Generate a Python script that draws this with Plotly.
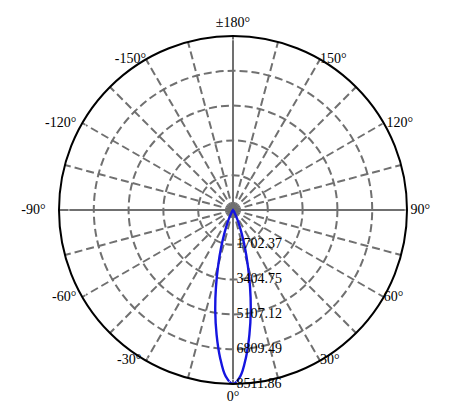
import plotly.graph_objects as go

# Luminous intensity distribution (cd), symmetric narrow beam
angles = [0, 2.5, 5, 7.5, 10, 12.5, 15, 17.5, 20, 22.5, 25, 30, 35, 40, 45, 60, 90, 120, 150, 180]
intensity = [8511.86, 8150, 7250, 6150, 5000, 3850, 2800, 1950, 1280, 800, 480, 150, 40, 10, 0, 0, 0, 0, 0, 0]

r_ticks = [1702.37, 3404.75, 5107.12, 6809.49, 8511.86]
theta_ticks = [0, 30, 60, 90, 120, 150, 180, 210, 240, 270, 300, 330]
theta_labels = ["0°", "30°", "60°", "90°", "120°", "150°", "±180°",
                "-150°", "-120°", "-90°", "-60°", "-30°"]
label_pos = ["bottom center", "middle right", "middle right", "middle right", "middle right",
             "middle right", "top center", "middle left", "middle left", "middle left",
             "middle left", "middle left"]
# invisible marker sizes used only as label padding
label_pad = [9, 0, 0, 4, 3, 0, 8, 0, 8, 20, 8, 6]

# full curve: right side 0..180 then left side back to 0
theta_full = angles + [360 - a for a in reversed(angles)]
r_full = intensity + list(reversed(intensity))
r_max = r_ticks[-1]

GRID = "#707070"
DASH = "8px,4px"
FONT = dict(family="Liberation Serif", size=14, color="black")

fig = go.Figure()

# dashed spokes every 15 deg (except main axes)
spokes = [a for a in range(15, 360, 15) if a % 90 != 0]
fig.add_trace(go.Scatterpolar(
    r=[v for a in spokes for v in (0, r_max, None)],
    theta=[v for a in spokes for v in (a, a, None)],
    mode="lines", line=dict(color=GRID, width=2, dash=DASH), hoverinfo="skip"))

# solid main axes (0/180 and 90/270)
fig.add_trace(go.Scatterpolar(r=[r_max, 0, r_max], theta=[0, 0, 180], mode="lines",
                              line=dict(color=GRID, width=2), hoverinfo="skip"))
fig.add_trace(go.Scatterpolar(r=[r_max, 0, r_max], theta=[90, 90, 270], mode="lines",
                              line=dict(color=GRID, width=2), hoverinfo="skip"))

fig.add_trace(go.Scatterpolar(r=r_full, theta=theta_full, mode="lines",
                              line=dict(color="#1515e0", width=2.4, shape="spline")))

# radial tick labels along the 0 deg line
fig.add_trace(go.Scatterpolar(r=r_ticks, theta=[0] * len(r_ticks), mode="text",
                              text=[" " + f"{v:.2f}" for v in r_ticks], textposition="middle right",
                              textfont=FONT, hoverinfo="skip", cliponaxis=False))

# angular labels just outside the rim
fig.add_trace(go.Scatterpolar(r=[r_max] * len(theta_ticks), theta=theta_ticks, mode="markers+text",
                              marker=dict(size=label_pad, color="rgba(0,0,0,0)"),
                              text=theta_labels, textposition=label_pos,
                              textfont=FONT, hoverinfo="skip", cliponaxis=False))

fig.update_layout(
    width=461, height=410,
    margin=dict(l=0, r=0, t=0, b=0, autoexpand=False),
    paper_bgcolor="white",
    showlegend=False,
    font=FONT,
    polar=dict(
        domain=dict(x=[51 / 461, 399 / 461], y=[34 / 410, 382 / 410]),
        bgcolor="white",
        angularaxis=dict(
            rotation=-90, direction="counterclockwise",
            showticklabels=False, ticks="",
            showline=True, linecolor="black", linewidth=2,
            showgrid=False,
        ),
        radialaxis=dict(
            range=[0, r_max], tickmode="array", tickvals=r_ticks[:-1],
            showticklabels=False, ticks="", showline=False,
            showgrid=True, gridcolor=GRID, gridwidth=2, griddash=DASH,
        ),
    ),
)

fig.write_html("out.html")
